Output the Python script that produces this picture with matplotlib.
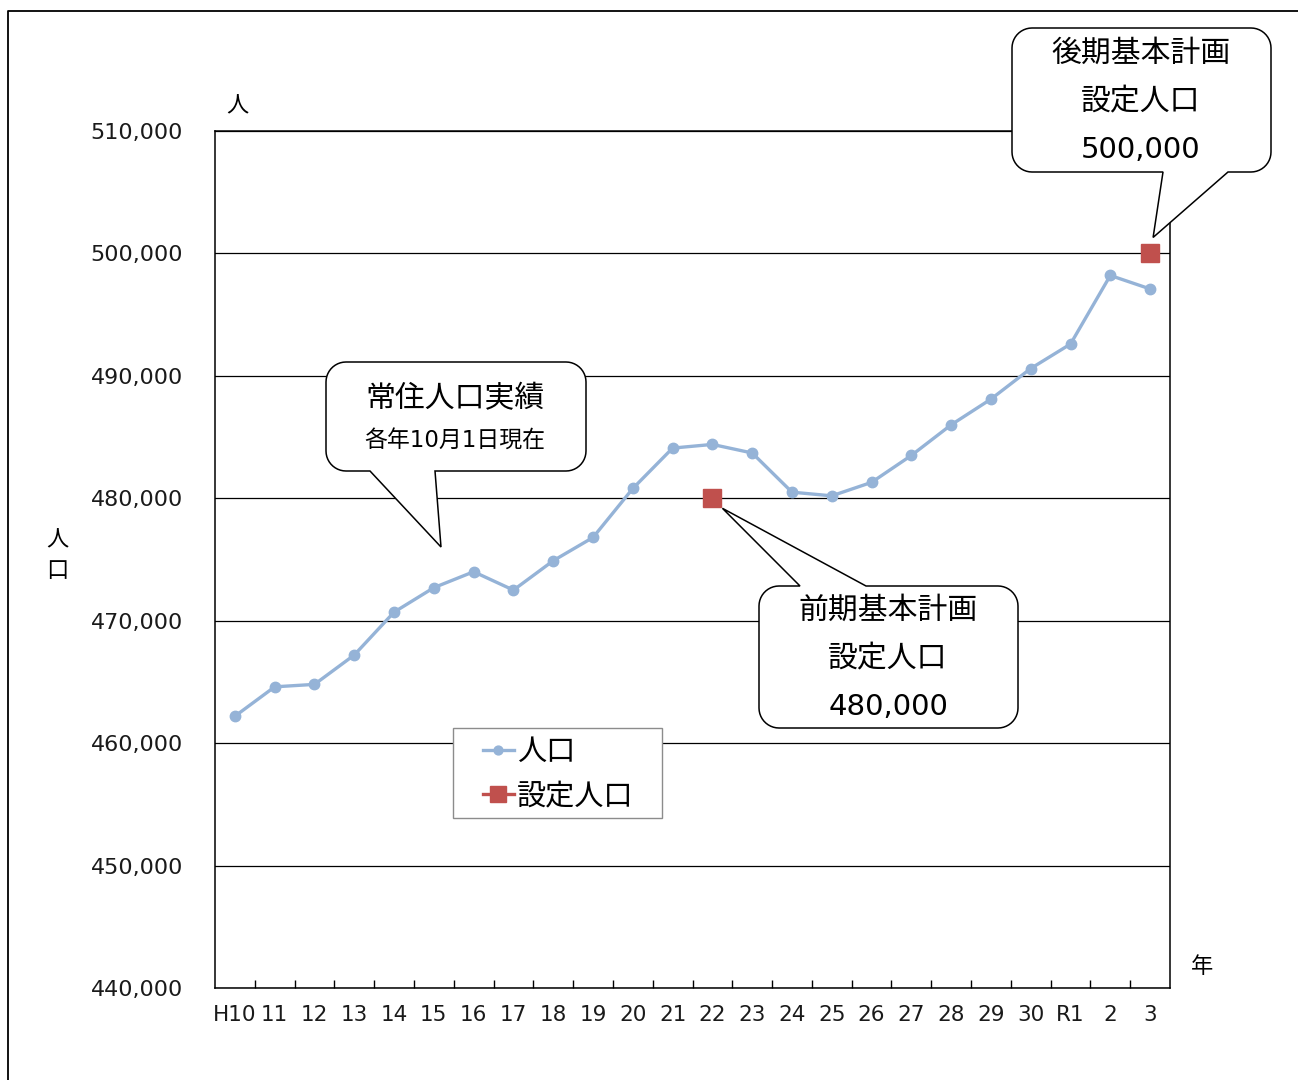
import matplotlib.pyplot as plt
import numpy as np
from matplotlib.patches import Polygon, Rectangle

plt.rcParams["font.family"] = ["DejaVu Sans", "Noto Sans CJK JP"]

# Data
years = ["H10", "11", "12", "13", "14", "15", "16", "17", "18", "19", "20", "21",
         "22", "23", "24", "25", "26", "27", "28", "29", "30", "R1", "2", "3"]
population = [462200, 464600, 464800, 467200, 470700, 472700, 474000, 472500,
              474900, 476800, 480800, 484100, 484400, 483700, 480500, 480200,
              481300, 483500, 486000, 488100, 490600, 492600, 498200, 497100]
# planned population: only the two target years have values
planned = [np.nan] * 24
planned[years.index("22")] = 480000
planned[years.index("3")] = 500000

W, H = 1298, 1080
fig = plt.figure(figsize=(W / 100, H / 100), dpi=100)
ax = fig.add_axes([215 / W, 1 - 988 / H, (1170 - 215) / W, (988 - 131) / H])

x = np.arange(len(years))
ax.plot(x, population, color="#95B3D7", lw=2.4, marker="o", ms=7.5, label="人口", zorder=3)
ax.plot(x, planned, color="#C0504D", lw=2.4, marker="s", ms=13, label="設定人口", zorder=4)

ax.set_xlim(-0.5, len(years) - 0.5)
ax.set_ylim(440000, 510000)
ax.set_yticks(np.arange(440000, 510001, 10000))
ax.yaxis.set_major_formatter(lambda v, p: f"{int(v):,}")
ax.tick_params(axis="y", length=0, pad=23, labelsize=16, labelcolor="#1a1a1a")
ax.grid(axis="y", color="black", lw=0.9)
ax.set_axisbelow(True)

# ticks between categories, labels at centres
ax.set_xticks(np.arange(0.5, len(years) - 1, 1))
ax.set_xticklabels([])
ax.tick_params(axis="x", which="major", direction="in", length=6, width=1)
ax.set_xticks(x, minor=True)
ax.set_xticklabels(years, minor=True)
ax.tick_params(axis="x", which="minor", length=0, pad=12, labelsize=15.5, colors="#1a1a1a")
for s in ax.spines.values():
    s.set_linewidth(1.1)

# overlay in figure pixels (y down) for callouts, legend and loose labels
ov = fig.add_axes([0, 0, 1, 1], zorder=10)
ov.set_xlim(0, W)
ov.set_ylim(H, 0)
ov.axis("off")

handles, labels = ax.get_legend_handles_labels()
ov.add_patch(Rectangle((453, 728), 209, 90, facecolor="white", edgecolor="#8c8c8c",
                       lw=1, zorder=4))
ov.legend(handles, labels, loc="upper left", bbox_to_anchor=(483 / W, 1 - 738 / H),
          bbox_transform=fig.transFigure, borderaxespad=0, borderpad=0, fontsize=21,
          frameon=False, handlelength=1.05, handletextpad=0.1, labelspacing=0.55,
          markerscale=0.85)


def to_px(xv, yv):
    dx, dy = ax.transData.transform((xv, yv))
    return dx, H - dy


def bubble(x0, y0, x1, y1, side, b0, b1, tip, r=20):
    def arc(cx, cy, a0, a1):
        t = np.radians(np.linspace(a0, a1, 12))
        return list(zip(cx + r * np.cos(t), cy + r * np.sin(t)))

    pts = [(x0 + r, y0)]
    if side == "top":
        pts += [(b0, y0), tip, (b1, y0)]
    pts += [(x1 - r, y0)] + arc(x1 - r, y0 + r, 270, 360)
    pts += [(x1, y1 - r)] + arc(x1 - r, y1 - r, 0, 90)
    if side == "bottom":
        pts += [(b1, y1), tip, (b0, y1)]
    pts += [(x0 + r, y1)] + arc(x0 + r, y1 - r, 90, 180)
    pts += [(x0, y0 + r)] + arc(x0 + r, y0 + r, 180, 270)
    ov.add_patch(Polygon(pts, closed=True, facecolor="white", edgecolor="black", lw=1.1))


# actual population callout
bubble(326, 362, 586, 471, "bottom", 370, 435, (441, 547))
ov.text(455, 399, "常住人口実績", fontsize=21.5, ha="center", va="center")
ov.text(455, 441, "各年10月1日現在", fontsize=16.5, ha="center", va="center")

# first-half plan callout
px, py = to_px(years.index("22"), 480000)
bubble(759, 586, 1018, 728, "top", 800, 866, (px + 10, py + 10))
for i, t in enumerate(["前期基本計画", "設定人口", "480,000"]):
    ov.text(888, 610 + 48.5 * i, t, fontsize=21.5 if i < 2 else 21, ha="center", va="center")

# second-half plan callout
px, py = to_px(years.index("3"), 500000)
bubble(1012, 28, 1271, 172, "bottom", 1163, 1228, (px + 3, py - 16))
for i, t in enumerate(["後期基本計画", "設定人口", "500,000"]):
    ov.text(1141, 53 + 48.5 * i, t, fontsize=21.5 if i < 2 else 21, ha="center", va="center")

ov.text(237, 106, "人", fontsize=16, ha="center", va="center")
ov.text(57, 556, "人\n口", fontsize=16, ha="center", va="center", linespacing=1.65)
ov.text(1202, 967, "年", fontsize=16, ha="center", va="center")

# outer frame
ov.plot([8, 8, W + 5], [H + 5, 11, 11], color="black", lw=1.3, clip_on=False)

fig.savefig("out.png", dpi=100)
